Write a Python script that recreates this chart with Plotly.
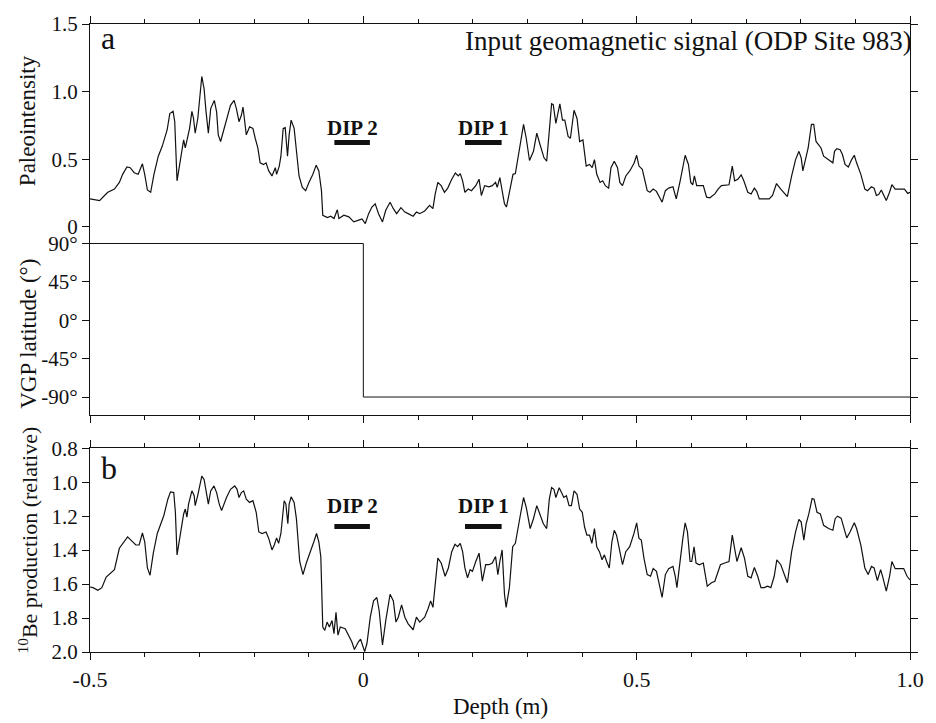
import plotly.graph_objects as go

# ---------------- data ----------------
# Panel a: relative paleointensity vs depth (m)
pi_depth = [-0.500, -0.4915, -0.4825, -0.4734, -0.4674, -0.4553, -0.4463, -0.4403, -0.4324, -0.4264,
            -0.4192, -0.4119, -0.4041, -0.3999, -0.3950, -0.3890, -0.3830, -0.3751, -0.3679, -0.3589,
            -0.3540, -0.3480, -0.3450, -0.3408, -0.3347, -0.3287, -0.3257, -0.3215, -0.3178, -0.3136,
            -0.3106, -0.3076, -0.3028, -0.2955, -0.2913, -0.2877, -0.2835, -0.2792, -0.2726, -0.2684,
            -0.2654, -0.2611, -0.2563, -0.2503, -0.2430, -0.2364, -0.2322, -0.2274, -0.2231, -0.2201,
            -0.2141, -0.2081, -0.2020, -0.1978, -0.1930, -0.1888, -0.1827, -0.1779, -0.1731, -0.1671,
            -0.1610, -0.1586, -0.1538, -0.1508, -0.1466, -0.1429, -0.1387, -0.1357, -0.1321, -0.1266,
            -0.1224, -0.1176, -0.1116, -0.1055, -0.0995, -0.0923, -0.0862, -0.0814, -0.0766, -0.0742,
            -0.0657, -0.0597, -0.0536, -0.0476, -0.0446, -0.0356, -0.0265, -0.0175, -0.0084,
            -0.0024, 0.0036, 0.0097, 0.0157, 0.0217, 0.0278, 0.0350, 0.0410, 0.0489, 0.0549,
            0.0609, 0.0688, 0.0760, 0.0820, 0.0911, 0.0971, 0.1031, 0.1122, 0.1212, 0.1273,
            0.1315, 0.1363, 0.1424, 0.1484, 0.1544, 0.1617, 0.1683, 0.1737, 0.1773, 0.1816,
            0.1858, 0.1918, 0.1978, 0.2057, 0.2117, 0.2159, 0.2220, 0.2298, 0.2358, 0.2419,
            0.2449, 0.2497, 0.2539, 0.2582, 0.2618, 0.2672, 0.2738, 0.2781, 0.2811, 0.2871,
            0.2931, 0.2980, 0.3040, 0.3112, 0.3173, 0.3233, 0.3305, 0.3354, 0.3402, 0.3444,
            0.3474, 0.3522, 0.3595, 0.3643, 0.3685, 0.3746, 0.3788, 0.3854, 0.3909, 0.3957,
            0.4017, 0.4047, 0.4077, 0.4138, 0.4186, 0.4228, 0.4270, 0.4331, 0.4379, 0.4427,
            0.4487, 0.4530, 0.4590, 0.4650, 0.4692, 0.4741, 0.4801, 0.4873, 0.4952, 0.5000,
            0.5042, 0.5103, 0.5145, 0.5193, 0.5242, 0.5302, 0.5362, 0.5404, 0.5465, 0.5525,
            0.5585, 0.5664, 0.5724, 0.5796, 0.5839, 0.5887, 0.5947, 0.5989, 0.6026, 0.6056,
            0.6098, 0.6146, 0.6219, 0.6279, 0.6339, 0.6430, 0.6490, 0.6550, 0.6629, 0.6689,
            0.6749, 0.6792, 0.6852, 0.6912, 0.6960, 0.7033, 0.7093, 0.7153, 0.7196, 0.7244,
            0.7334, 0.7425, 0.7485, 0.7558, 0.7636, 0.7757, 0.7835, 0.7907, 0.7968, 0.8010,
            0.8040, 0.8088, 0.8137, 0.8197, 0.8239, 0.8281, 0.8330, 0.8372, 0.8420, 0.8511,
            0.8589, 0.8619, 0.8661, 0.8722, 0.8764, 0.8812, 0.8872, 0.8933, 0.8981, 0.9023,
            0.9101, 0.9174, 0.9222, 0.9295, 0.9343, 0.9385, 0.9427, 0.9475, 0.9518, 0.9566,
            0.9626, 0.9669, 0.9729, 0.9807, 0.9898, 0.9958, 1.000]
paleointensity = [0.206, 0.202, 0.194, 0.231, 0.255, 0.279, 0.328, 0.388, 0.442, 0.437,
                  0.400, 0.388, 0.466, 0.388, 0.272, 0.255, 0.388, 0.522, 0.595, 0.716,
                  0.837, 0.854, 0.777, 0.340, 0.510, 0.643, 0.583, 0.668, 0.728, 0.854,
                  0.801, 0.692, 0.801, 1.112, 1.020, 0.850, 0.692, 0.874, 0.935, 0.850,
                  0.680, 0.631, 0.704, 0.777, 0.898, 0.935, 0.874, 0.777, 0.825, 0.886,
                  0.680, 0.740, 0.728, 0.655, 0.583, 0.473, 0.461, 0.473, 0.413, 0.376,
                  0.437, 0.388, 0.449, 0.522, 0.728, 0.733, 0.522, 0.680, 0.789, 0.728,
                  0.558, 0.376, 0.291, 0.267, 0.328, 0.388, 0.456, 0.413, 0.267, 0.085,
                  0.068, 0.078, 0.061, 0.126, 0.061, 0.085, 0.073, 0.036, 0.049,
                  0.058, 0.024, 0.097, 0.146, 0.170, 0.097, 0.036, 0.122, 0.182, 0.134,
                  0.097, 0.141, 0.109, 0.097, 0.078, 0.109, 0.097, 0.117, 0.158, 0.134,
                  0.243, 0.328, 0.304, 0.255, 0.286, 0.352, 0.398, 0.376, 0.393, 0.340,
                  0.255, 0.279, 0.267, 0.304, 0.352, 0.231, 0.304, 0.296, 0.304, 0.328,
                  0.291, 0.364, 0.279, 0.170, 0.146, 0.267, 0.388, 0.393, 0.461, 0.595,
                  0.757, 0.655, 0.490, 0.558, 0.692, 0.607, 0.510, 0.485, 0.728, 0.910,
                  0.903, 0.765, 0.910, 0.789, 0.789, 0.668, 0.655, 0.862, 0.801, 0.631,
                  0.643, 0.522, 0.449, 0.461, 0.437, 0.497, 0.388, 0.328, 0.340, 0.304,
                  0.286, 0.437, 0.485, 0.437, 0.328, 0.304, 0.376, 0.413, 0.470, 0.529,
                  0.449, 0.425, 0.340, 0.267, 0.255, 0.279, 0.262, 0.231, 0.182, 0.267,
                  0.286, 0.296, 0.206, 0.340, 0.437, 0.529, 0.461, 0.328, 0.311, 0.376,
                  0.304, 0.304, 0.304, 0.219, 0.214, 0.243, 0.279, 0.304, 0.311, 0.311,
                  0.449, 0.340, 0.352, 0.384, 0.340, 0.255, 0.243, 0.286, 0.262, 0.206,
                  0.206, 0.206, 0.231, 0.320, 0.279, 0.223, 0.376, 0.497, 0.558, 0.510,
                  0.413, 0.510, 0.583, 0.757, 0.757, 0.631, 0.607, 0.583, 0.522, 0.497,
                  0.473, 0.558, 0.578, 0.570, 0.534, 0.461, 0.442, 0.497, 0.529, 0.473,
                  0.388, 0.279, 0.267, 0.296, 0.286, 0.231, 0.238, 0.272, 0.231, 0.194,
                  0.255, 0.311, 0.279, 0.279, 0.279, 0.247, 0.255]

# Middle panel: VGP latitude (degrees) - a single polarity switch at 0 m
vgp_depth = [-0.5, 0.0, 0.0, 1.0]
vgp_lat = [90, 90, -90, -90]

# Panel b: relative 10Be production vs depth (m)
be_depth = [-0.500, -0.4946, -0.4855, -0.4783, -0.4704, -0.4614, -0.4553, -0.4463, -0.4385, -0.4312,
            -0.4252, -0.4161, -0.4101, -0.4041, -0.3999, -0.3950, -0.3902, -0.3842, -0.3769, -0.3709,
            -0.3649, -0.3576, -0.3528, -0.3468, -0.3438, -0.3408, -0.3347, -0.3287, -0.3257, -0.3227,
            -0.3197, -0.3136, -0.3094, -0.3076, -0.3028, -0.2955, -0.2913, -0.2877, -0.2835, -0.2792,
            -0.2732, -0.2684, -0.2636, -0.2593, -0.2551, -0.2503, -0.2430, -0.2352, -0.2310, -0.2274,
            -0.2231, -0.2189, -0.2141, -0.2081, -0.2020, -0.1960, -0.1912, -0.1852, -0.1779, -0.1731,
            -0.1671, -0.1629, -0.1586, -0.1550, -0.1508, -0.1448, -0.1417, -0.1381, -0.1357, -0.1321,
            -0.1266, -0.1224, -0.1164, -0.1104, -0.1043, -0.0965, -0.0905, -0.0856, -0.0814, -0.0778,
            -0.0742, -0.0705, -0.0663, -0.0621, -0.0573, -0.0537, -0.0500, -0.0464, -0.0422, -0.0332,
            -0.0271, -0.0211, -0.0163, -0.0090, -0.0050,
            0.0024, 0.0066, 0.0127, 0.0187, 0.0247, 0.0290, 0.0350, 0.0410, 0.0489, 0.0549,
            0.0597, 0.0639, 0.0700, 0.0760, 0.0820, 0.0911, 0.0971, 0.1031, 0.1122, 0.1182,
            0.1231, 0.1273, 0.1315, 0.1363, 0.1424, 0.1496, 0.1556, 0.1617, 0.1677, 0.1725,
            0.1773, 0.1816, 0.1858, 0.1906, 0.1954, 0.1996, 0.2057, 0.2117, 0.2177, 0.2238,
            0.2298, 0.2358, 0.2419, 0.2461, 0.2497, 0.2539, 0.2582, 0.2612, 0.2672, 0.2732,
            0.2781, 0.2811, 0.2871, 0.2931, 0.2980, 0.3052, 0.3112, 0.3173, 0.3233, 0.3293,
            0.3354, 0.3402, 0.3444, 0.3486, 0.3522, 0.3583, 0.3625, 0.3667, 0.3715, 0.3764,
            0.3806, 0.3854, 0.3909, 0.3957, 0.4005, 0.4047, 0.4089, 0.4138, 0.4180, 0.4228,
            0.4270, 0.4319, 0.4367, 0.4409, 0.4451, 0.4499, 0.4547, 0.4590, 0.4632, 0.4680,
            0.4741, 0.4801, 0.4873, 0.4952, 0.5000, 0.5042, 0.5085, 0.5133, 0.5193, 0.5254,
            0.5302, 0.5362, 0.5404, 0.5465, 0.5525, 0.5585, 0.5664, 0.5706, 0.5736, 0.5796,
            0.5845, 0.5887, 0.5929, 0.5977, 0.6007, 0.6050, 0.6086, 0.6146, 0.6219, 0.6291,
            0.6369, 0.6430, 0.6490, 0.6532, 0.6611, 0.6689, 0.6749, 0.6792, 0.6834, 0.6912,
            0.6972, 0.7033, 0.7093, 0.7153, 0.7214, 0.7274, 0.7334, 0.7395, 0.7455, 0.7516,
            0.7564, 0.7636, 0.7727, 0.7757, 0.7835, 0.7907, 0.7968, 0.8010, 0.8058, 0.8100,
            0.8149, 0.8209, 0.8245, 0.8299, 0.8360, 0.8420, 0.8511, 0.8589, 0.8631, 0.8674,
            0.8740, 0.8782, 0.8843, 0.8903, 0.8981, 0.9023, 0.9101, 0.9174, 0.9234, 0.9295,
            0.9343, 0.9403, 0.9463, 0.9506, 0.9566, 0.9626, 0.9669, 0.9729, 0.9807, 0.9885,
            0.9946, 1.000]
be_production = [1.617, 1.621, 1.637, 1.621, 1.559, 1.534, 1.515, 1.389, 1.351, 1.322,
                 1.341, 1.370, 1.370, 1.299, 1.351, 1.505, 1.548, 1.418, 1.302, 1.245,
                 1.196, 1.100, 1.057, 1.061, 1.177, 1.428, 1.293, 1.187, 1.158, 1.206,
                 1.129, 1.051, 1.080, 1.138, 1.076, 0.964, 0.984, 1.061, 1.129, 1.051,
                 1.022, 1.061, 1.129, 1.167, 1.129, 1.090, 1.042, 1.022, 1.042, 1.090,
                 1.061, 1.051, 1.100, 1.119, 1.109, 1.177, 1.293, 1.302, 1.293, 1.331,
                 1.399, 1.370, 1.328, 1.360, 1.302, 1.109, 1.129, 1.245, 1.129, 1.086,
                 1.119, 1.216, 1.467, 1.544, 1.476, 1.409, 1.351, 1.302, 1.351, 1.438,
                 1.853, 1.873, 1.824, 1.853, 1.815, 1.892, 1.766, 1.901, 1.853, 1.863,
                 1.901, 1.940, 1.985, 1.940, 1.925,
                 1.998, 1.950, 1.795, 1.699, 1.679, 1.757, 1.959, 1.815, 1.660, 1.699,
                 1.824, 1.795, 1.722, 1.795, 1.834, 1.869, 1.795, 1.824, 1.795, 1.747,
                 1.699, 1.737, 1.583, 1.447, 1.476, 1.554, 1.505, 1.409, 1.366, 1.380,
                 1.360, 1.409, 1.505, 1.563, 1.515, 1.525, 1.467, 1.418, 1.583, 1.486,
                 1.486, 1.476, 1.438, 1.544, 1.467, 1.399, 1.660, 1.737, 1.621, 1.380,
                 1.360, 1.312, 1.196, 1.090, 1.148, 1.273, 1.215, 1.138, 1.196, 1.245,
                 1.273, 1.100, 1.032, 1.042, 1.090, 1.032, 1.061, 1.090, 1.080, 1.138,
                 1.138, 1.051, 1.071, 1.158, 1.177, 1.264, 1.312, 1.312, 1.360, 1.273,
                 1.380, 1.409, 1.457, 1.428, 1.467, 1.505, 1.351, 1.283, 1.312, 1.380,
                 1.486, 1.409, 1.380, 1.300, 1.240, 1.331, 1.341, 1.447, 1.544, 1.554,
                 1.509, 1.525, 1.592, 1.679, 1.544, 1.509, 1.496, 1.554, 1.621, 1.447,
                 1.331, 1.239, 1.293, 1.467, 1.467, 1.380, 1.476, 1.486, 1.476, 1.612,
                 1.592, 1.583, 1.525, 1.486, 1.476, 1.467, 1.312, 1.399, 1.467, 1.386,
                 1.447, 1.554, 1.563, 1.502, 1.554, 1.621, 1.621, 1.612, 1.621, 1.554,
                 1.457, 1.486, 1.573, 1.592, 1.409, 1.293, 1.219, 1.235, 1.341, 1.245,
                 1.187, 1.096, 1.100, 1.177, 1.187, 1.254, 1.273, 1.283, 1.215, 1.200,
                 1.212, 1.264, 1.328, 1.293, 1.239, 1.273, 1.370, 1.505, 1.544, 1.496,
                 1.505, 1.579, 1.515, 1.563, 1.641, 1.554, 1.467, 1.509, 1.509, 1.509,
                 1.554, 1.575]

# Marked intensity dips (depth intervals, m)
dip_names = ["DIP 1", "DIP 2"]
dip_start = [0.186, -0.053]
dip_end = [0.253, 0.012]

# Tick labels
x_tickvals = [-0.5, 0.0, 0.5, 1.0]
x_ticktext = ["-0.5", "0", "0.5", "1.0"]
pi_tickvals = [0, 0.5, 1.0, 1.5]
pi_ticktext = ["0", "0.5", "1.0", "1.5"]
vgp_tickvals = [90, 45, 0, -45, -90]
vgp_ticktext = ["90°", "45°", "0°", "-45°", "-90°"]
be_tickvals = [0.8, 1.0, 1.2, 1.4, 1.6, 1.8, 2.0]
be_ticktext = ["0.8", "1.0", "1.2", "1.4", "1.6", "1.8", "2.0"]

# ---------------- figure ----------------
FONT = "Liberation Serif"
INK = "#111111"
W, H = 936, 723
ML, MR, MT, MB = 90, 17, 14, 71
PH = H - MT - MB


def py2paper(py):
    return (H - MB - py) / PH


def px2paper(px):
    return (px - ML) / (W - ML - MR)


fig = go.Figure()
line_style = dict(color=INK, width=1.2)
fig.add_trace(go.Scatter(x=pi_depth, y=paleointensity, mode="lines", line=line_style,
                         xaxis="x", yaxis="y", showlegend=False))
fig.add_trace(go.Scatter(x=vgp_depth, y=vgp_lat, mode="lines", line=dict(color=INK, width=1),
                         xaxis="x2", yaxis="y2", showlegend=False))
fig.add_trace(go.Scatter(x=be_depth, y=be_production, mode="lines", line=line_style,
                         xaxis="x3", yaxis="y3", showlegend=False))

tickfont = dict(family=FONT, size=21, color=INK)
common_x = dict(range=[-0.5, 1.0], showline=True, linecolor=INK, linewidth=1.2,
                ticks="outside", ticklen=7, tickwidth=1.2, tickcolor=INK,
                tickvals=x_tickvals, ticktext=x_ticktext,
                minor=dict(dtick=0.1, tick0=-0.5, ticklen=4, tickwidth=1, tickcolor=INK, ticks="outside"),
                showgrid=False, zeroline=False, tickfont=dict(tickfont, size=22))
common_y = dict(showline=True, linecolor=INK, linewidth=1.2, mirror="ticks",
                ticks="outside", ticklen=7, tickwidth=1.2, tickcolor=INK,
                showgrid=False, zeroline=False, tickfont=tickfont)

d_a = [py2paper(220), 1.0]
d_v = [py2paper(411), py2paper(220)]
d_b = [0.0, py2paper(445)]

fig.update_layout(
    width=W, height=H,
    margin=dict(l=ML, r=MR, t=MT, b=MB),
    paper_bgcolor="white", plot_bgcolor="white",
    font=dict(family=FONT, color=INK),
    xaxis=dict(common_x, anchor="y", side="top", showticklabels=False),
    yaxis=dict(common_y, domain=d_a, anchor="x", range=[0, 1.5],
               tickvals=pi_tickvals, ticktext=pi_ticktext),
    xaxis2=dict(common_x, anchor="y2", side="bottom", showticklabels=False, matches="x"),
    yaxis2=dict(common_y, domain=d_v, anchor="x2", range=[-110.8, 109.6],
                tickvals=vgp_tickvals, ticktext=vgp_ticktext),
    xaxis3=dict(common_x, anchor="y3", side="bottom", mirror="ticks", matches="x"),
    yaxis3=dict(common_y, domain=d_b, anchor="x3", range=[2.0, 0.8],
                tickvals=be_tickvals, ticktext=be_ticktext),
)

# DIP bars and labels in panels a and b
bar_levels = {"y": (0.623, 0.728), "y3": (1.261, 1.142)}
xrefs = {"y": "x", "y3": "x3"}
for yref, (bar_y, label_y) in bar_levels.items():
    for name, s, e in zip(dip_names, dip_start, dip_end):
        fig.add_shape(type="line", xref=xrefs[yref], yref=yref, x0=s, x1=e, y0=bar_y, y1=bar_y,
                      line=dict(color=INK, width=5))
        fig.add_annotation(xref=xrefs[yref], yref=yref, x=(s + e) / 2, y=label_y, text="<b>%s</b>" % name,
                           showarrow=False, font=dict(family=FONT, size=21, color=INK),
                           xanchor="center", yanchor="middle")

ann_font = dict(family=FONT, color=INK)
fig.add_annotation(xref="paper", yref="paper", x=px2paper(99), y=py2paper(28), text="a", showarrow=False,
                   font=dict(ann_font, size=32), xanchor="left", yanchor="middle")
fig.add_annotation(xref="paper", yref="paper", x=px2paper(99), y=py2paper(465), text="b", showarrow=False,
                   font=dict(ann_font, size=32), xanchor="left", yanchor="middle")
fig.add_annotation(xref="paper", yref="paper", x=px2paper(923), y=py2paper(31),
                   text="Input geomagnetic signal (ODP Site 983)", showarrow=False,
                   font=dict(ann_font, size=27), xanchor="right", yanchor="middle")

# axis titles
fig.add_annotation(xref="paper", yref="paper", x=px2paper(27), y=py2paper(112), text="Paleointensity",
                   textangle=-90, showarrow=False, font=dict(ann_font, size=23),
                   xanchor="center", yanchor="middle")
fig.add_annotation(xref="paper", yref="paper", x=px2paper(27), y=py2paper(329), text="VGP latitude (°)",
                   textangle=-90, showarrow=False, font=dict(ann_font, size=23),
                   xanchor="center", yanchor="middle")
fig.add_annotation(xref="paper", yref="paper", x=px2paper(27), y=py2paper(538),
                   text="<sup>10</sup>Be production (relative)",
                   textangle=-90, showarrow=False, font=dict(ann_font, size=22),
                   xanchor="center", yanchor="middle")
fig.add_annotation(xref="paper", yref="paper", x=0.5, y=py2paper(707), text="Depth (m)",
                   showarrow=False, font=dict(ann_font, size=23), xanchor="center", yanchor="middle")

fig.write_html("out.html")
